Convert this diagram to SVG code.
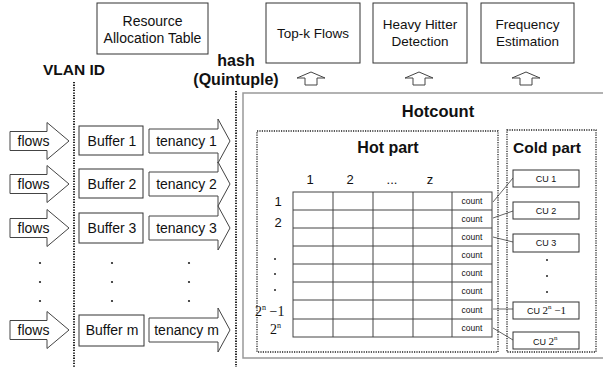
<svg xmlns="http://www.w3.org/2000/svg" width="603" height="367" viewBox="0 0 603 367">
<style>
text{font-family:"Liberation Sans",Arial,sans-serif;fill:#111}
.b{font-weight:bold}
.box{fill:#fff;stroke:#333;stroke-width:1}
.arr{fill:#fff;stroke:#444;stroke-width:1}
.dot{fill:none;stroke:#222;stroke-width:2;stroke-dasharray:1.3 1.3}
.dbox{fill:none;stroke:#222;stroke-width:1.3;stroke-dasharray:1.2 1.2}
.grid{fill:none;stroke:#444;stroke-width:1}
.con{fill:none;stroke:#555;stroke-width:0.9}
.serif{font-family:"Liberation Serif","Times New Roman",serif}
.m{text-anchor:middle}
</style>
<defs>
<path id="fa" d="M10,-9.5 H47 V-18.5 L69,0 L47,18.5 V9.5 H10 Z"/>
<path id="ta" d="M149,-12 H218 V-22 L230,0 L218,22 V12 H149 Z"/>
<path id="ua" d="M0,72 L14,78 H6 V85 H-6 V78 H-14 Z"/>
</defs>
<rect width="603" height="367" fill="#fff"/>

<g id="resource-table">
<rect class="box" x="97" y="3" width="111" height="51"/>
<text class="m" x="152.5" y="26" font-size="14">Resource</text>
<text class="m" x="152.5" y="43" font-size="14">Allocation Table</text>
</g>
<g id="topk">
<rect class="box" x="266" y="3" width="94" height="60"/>
<text class="m" x="313" y="38" font-size="13.5">Top-k Flows</text>
</g>
<g id="heavy-hitter">
<rect class="box" x="373" y="3" width="94" height="60"/>
<text class="m" x="420" y="29" font-size="13.5">Heavy Hitter</text>
<text class="m" x="420" y="46" font-size="13.5">Detection</text>
</g>
<g id="frequency">
<rect class="box" x="481" y="3" width="93" height="60"/>
<text class="m" x="527.5" y="29" font-size="13.5">Frequency</text>
<text class="m" x="527.5" y="46" font-size="13.5">Estimation</text>
</g>

<text class="b m" x="74" y="75" font-size="15.5">VLAN ID</text>
<text class="b m" x="236" y="66" font-size="16">hash</text>
<text class="b m" x="236" y="85" font-size="16">(Quintuple)</text>

<g id="connectors">
<line class="dot" x1="74" y1="82" x2="74" y2="367"/>
<line class="dot" x1="236" y1="91" x2="236" y2="367"/>
<use href="#ua" class="arr" x="311"/>
<use href="#ua" class="arr" x="419"/>
<use href="#ua" class="arr" x="526"/>
<line class="con" x1="493" y1="202" x2="513" y2="178"/>
<line class="con" x1="493" y1="218" x2="513" y2="211"/>
<line class="con" x1="493" y1="237" x2="513" y2="242"/>
<line class="con" x1="493" y1="309" x2="513" y2="309"/>
<line class="con" x1="493" y1="328" x2="513" y2="340"/>
</g>

<g id="row1">
<use href="#fa" class="arr" y="141"/>
<text class="m" x="33.5" y="146" font-size="14">flows</text>
<rect class="box" x="79" y="126" width="64" height="29"/>
<text class="m" x="112" y="146" font-size="14">Buffer 1</text>
<use href="#ta" class="arr" y="141"/>
<text class="m" x="186.5" y="146" font-size="14">tenancy 1</text>
</g>
<g id="row2">
<use href="#fa" class="arr" y="184"/>
<text class="m" x="33.5" y="189" font-size="14">flows</text>
<rect class="box" x="79" y="169" width="64" height="29"/>
<text class="m" x="112" y="189" font-size="14">Buffer 2</text>
<use href="#ta" class="arr" y="184"/>
<text class="m" x="186.5" y="189" font-size="14">tenancy 2</text>
</g>
<g id="row3">
<use href="#fa" class="arr" y="228"/>
<text class="m" x="33.5" y="233" font-size="14">flows</text>
<rect class="box" x="79" y="213" width="64" height="30"/>
<text class="m" x="112" y="233" font-size="14">Buffer 3</text>
<use href="#ta" class="arr" y="228"/>
<text class="m" x="186.5" y="233" font-size="14">tenancy 3</text>
</g>
<g id="ellipsis-rows" fill="#222">
<circle cx="40" cy="263" r="1.1"/><circle cx="40" cy="282" r="1.1"/><circle cx="40" cy="301" r="1.1"/>
<circle cx="112" cy="263" r="1.1"/><circle cx="112" cy="282" r="1.1"/><circle cx="112" cy="301" r="1.1"/>
<circle cx="189" cy="263" r="1.1"/><circle cx="189" cy="282" r="1.1"/><circle cx="189" cy="301" r="1.1"/>
</g>
<g id="rowm">
<use href="#fa" class="arr" y="330"/>
<text class="m" x="33.5" y="335" font-size="14">flows</text>
<rect class="box" x="79" y="315" width="65" height="31"/>
<text class="m" x="112" y="335" font-size="14">Buffer m</text>
<use href="#ta" class="arr" y="330"/>
<text class="m" x="186.5" y="335" font-size="14">tenancy m</text>
</g>

<g id="hotcount">
<rect x="243" y="93" width="380" height="265" fill="none" stroke="#999" stroke-width="1.5"/>
<text class="b m" x="438" y="117" font-size="16.5">Hotcount</text>
</g>

<g id="hot-part">
<rect class="dbox" x="257" y="131" width="241" height="221"/>
<text class="b m" x="388" y="153" font-size="16">Hot part</text>
<text class="m" x="310" y="184" font-size="13">1</text>
<text class="m" x="350" y="184" font-size="13">2</text>
<text class="m" x="392" y="184" font-size="13">...</text>
<text class="m" x="430" y="184" font-size="13">z</text>
<text class="m" x="278" y="206" font-size="13">1</text>
<text class="m" x="278" y="227" font-size="13">2</text>
<g fill="#222"><circle cx="275" cy="259" r="1"/><circle cx="275" cy="274" r="1"/><circle cx="275" cy="290" r="1"/></g>
<text class="serif" x="255" y="316" font-size="14">2<tspan dy="-6" font-size="8">n</tspan><tspan dy="6"> −1</tspan></text>
<text class="serif" x="270" y="334" font-size="14">2<tspan dy="-6" font-size="8">n</tspan></text>
<g class="grid">
<rect x="293" y="192" width="199" height="145"/>
<path d="M333,192V337M373,192V337M413,192V337M452,192V337"/>
<path d="M293,210H492M293,228H492M293,246H492M293,264H492M293,282H492M293,300H492M293,319H492"/>
</g>
<g font-size="8.5" text-anchor="middle">
<text x="472" y="204">count</text>
<text x="472" y="222">count</text>
<text x="472" y="240">count</text>
<text x="472" y="258">count</text>
<text x="472" y="276">count</text>
<text x="472" y="294">count</text>
<text x="472" y="313">count</text>
<text x="472" y="331">count</text>
</g>
</g>

<g id="cold-part">
<rect class="dbox" x="507" y="130" width="89" height="222"/>
<text class="b m" x="547" y="153" font-size="15.5">Cold part</text>
<rect class="box" x="513" y="170" width="66" height="17"/>
<text class="m" x="546" y="182" font-size="9">CU 1</text>
<rect class="box" x="513" y="202" width="66" height="17"/>
<text class="m" x="546" y="214" font-size="9">CU 2</text>
<rect class="box" x="513" y="234" width="66" height="18"/>
<text class="m" x="546" y="246" font-size="9">CU 3</text>
<g fill="#222"><circle cx="547" cy="260" r="1"/><circle cx="547" cy="276" r="1"/><circle cx="547" cy="292" r="1"/></g>
<rect class="box" x="513" y="302" width="66" height="17"/>
<text x="527" y="314" font-size="9">CU <tspan class="serif" font-size="11">2<tspan dy="-5" font-size="7">n</tspan><tspan dy="5"> −1</tspan></tspan></text>
<rect class="box" x="513" y="332" width="66" height="17"/>
<text x="533" y="345" font-size="9">CU <tspan class="serif" font-size="11">2<tspan dy="-5" font-size="7">n</tspan></tspan></text>
</g>
</svg>
